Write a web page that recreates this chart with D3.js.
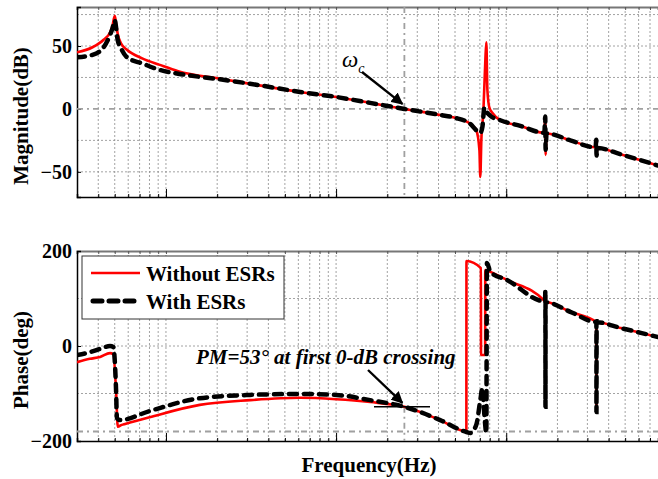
<!DOCTYPE html>
<html>
<head>
<meta charset="utf-8">
<script src="https://cdn.jsdelivr.net/npm/d3@7"></script>
<style>
  body { margin: 0; background: #fff; }
  svg { display: block; }
</style>
</head>
<body>
<svg id="bode"></svg>
<script>
// Bode plot of the loop gain, with and without capacitor ESRs

const magTicks = [-50, 0, 50];
const magGrid = [-50, -25, 25, 50, 75];
const phaseTicks = [-200, 0, 200];
const phaseGrid = [-100, 0, 100];
const freqDecades = [100, 1000, 10000];
const freqGrid = [40, 50, 60, 70, 80, 90, 100, 200, 300, 400, 500, 600, 700, 800, 900,
  1000, 2000, 3000, 4000, 5000, 6000, 7000, 8000, 9000, 10000, 20000, 30000, 40000,
  50000, 60000, 70000];
const crossFreq = 2520;

// [frequency (Hz), magnitude (dB)]
const magNoEsr = [[30, 45], [37, 49], [43, 55], [47, 61], [48.5, 66], [50, 74], [51, 67],
  [52, 60], [54.5, 52], [59, 47], [73, 40], [92, 35], [118, 30], [208, 24], [312, 20],
  [614, 13.5], [1000, 9.5], [1585, 4.8], [2520, 0], [4090, -4.8], [5000, -7], [6160, -12],
  [6670, -17], [6960, -33], [7040, -54], [7140, -25], [7340, -2], [7540, 39], [7640, 53],
  [7750, 15], [7960, 1], [8280, -3], [9230, -9], [12100, -13.5], [16760, -19], [16950, -6],
  [17050, -36.5], [17250, -19.5], [23800, -25], [33500, -30.5], [33850, -27], [33950, -36],
  [34300, -31], [46900, -36], [78000, -45]];
const magEsr = [[30, 41], [37, 43], [43, 49], [47, 59], [48.5, 64], [50, 70.5], [51, 64],
  [52, 55], [54.5, 48], [59, 41], [73, 36], [92, 31], [118, 28], [208, 23.5], [312, 20],
  [614, 13.5], [1000, 9.5], [1585, 4.8], [2520, 0], [4090, -4.8], [5000, -7], [6160, -12],
  [6670, -17], [7040, -19], [7250, -14], [7440, 1], [7640, -2], [8070, -5.5], [9230, -9],
  [12100, -13.5], [16760, -19], [16950, -6], [17050, -32.5], [17250, -19.5], [23800, -25],
  [33500, -30.5], [33850, -24.6], [33950, -37], [34300, -31], [46900, -36], [78000, -45]];

// [frequency (Hz), phase (deg)]
const phaseNoEsr = [[30, -34], [35.7, -27], [41, -23], [46.9, -15], [49, -17], [50.9, -93],
  [52.1, -170], [55, -166], [57.5, -164], [80, -150], [158, -124], [312, -114], [614, -109],
  [1000, -112], [1585, -118], [2520, -128], [4090, -156], [5830, -180], [5840, 179],
  [7100, 164], [7110, -19], [7520, -19], [7530, 160], [8070, 156], [10100, 139],
  [16900, 94], [16990, 92.5], [17000, -128], [17010, 92.5], [23800, 72], [33800, 50.5],
  [33900, -139], [34000, 50], [46900, 38], [78000, 19]];
const phaseEsr = [[30, -19], [35.7, -13], [41, -6], [46.9, 0], [49, -2], [50.9, -93],
  [51.5, -152], [53.6, -156], [80, -137], [158, -110], [312, -103], [614, -101],
  [1000, -103], [1585, -114], [2520, -128], [4090, -156], [5830, -181], [6160, -183],
  [6670, -166], [7040, -114], [7250, -88], [7440, -145], [7640, -183], [7700, 175],
  [8070, 156], [10100, 139], [16900, 94], [16990, 118], [17010, -128], [17030, 92],
  [23800, 72], [33800, 50.5], [33890, 52], [33910, -139], [34000, 50], [46900, 38],
  [78000, 19]];

const width = 658, height = 479;
const left = 77, right = 658;
const magBox = { top: 7, bottom: 197 };
const phBox = { top: 251, bottom: 441 };
const font = "'Liberation Serif', 'Times New Roman', serif";

const svg = d3.select("#bode").attr("width", width).attr("height", height)
  .style("font-family", font);

const x = d3.scaleLog([30, 78000], [left, right]);
const yMag = d3.scaleLinear([-70, 81], [magBox.bottom, magBox.top]);
const yPh = d3.scaleLinear([-200, 200], [phBox.bottom, phBox.top]);

const defs = svg.append("defs");

function panel(id, box, y, hGrid, ticks) {
  defs.append("clipPath").attr("id", id)
    .append("rect").attr("x", left).attr("y", box.top)
    .attr("width", right - left).attr("height", box.bottom - box.top);

  const g = svg.append("g");

  // grid
  g.append("g").selectAll("line").data(freqGrid).join("line")
    .attr("x1", d => x(d)).attr("x2", d => x(d))
    .attr("y1", box.top).attr("y2", box.bottom)
    .attr("stroke", "#8c8c8c").attr("stroke-width", 0.8)
    .attr("stroke-dasharray", "2,2");
  g.append("g").selectAll("line").data(hGrid).join("line")
    .attr("x1", left).attr("x2", right)
    .attr("y1", d => y(d)).attr("y2", d => y(d))
    .attr("stroke", "#8c8c8c").attr("stroke-width", 0.8)
    .attr("stroke-dasharray", "2,2");

  // axes
  g.append("g").attr("transform", `translate(0,${box.bottom})`)
    .call(d3.axisBottom(x).tickValues(freqGrid).tickSize(-3).tickFormat(""))
    .call(a => a.select(".domain").attr("stroke", "#000").attr("stroke-width", 1.5));
  g.append("g").attr("transform", `translate(0,${box.bottom})`)
    .call(d3.axisBottom(x).tickValues(freqDecades).tickSize(-8).tickFormat(""))
    .call(a => a.select(".domain").remove());
  g.append("g").attr("transform", `translate(0,${box.top})`)
    .call(d3.axisTop(x).tickValues(freqGrid).tickSize(-3).tickFormat(""))
    .call(a => a.select(".domain").attr("stroke", "#777").attr("stroke-width", 2))
    .call(a => a.selectAll(".tick line").attr("stroke", "#555"));

  g.append("g").attr("transform", `translate(${left},0)`)
    .call(d3.axisLeft(y).tickValues(ticks).tickSize(-4).tickPadding(5))
    .call(a => a.select(".domain").attr("stroke", "#000").attr("stroke-width", 1.5))
    .call(a => a.selectAll("text")
      .style("font-family", font).style("font-size", "20px").style("font-weight", "bold"));

  return g.append("g").attr("clip-path", `url(#${id})`);
}

const magG = panel("clip-mag", magBox, yMag, magGrid, magTicks);
const phG = panel("clip-ph", phBox, yPh, phaseGrid, phaseTicks);

// reference lines (0 dB, crossover, -180 deg)
const refStyle = sel => sel.attr("stroke", "#a0a0a0").attr("stroke-width", 1.8)
  .attr("stroke-dasharray", "6,4,2,4");
magG.append("line").attr("x1", left).attr("x2", right)
  .attr("y1", yMag(0)).attr("y2", yMag(0)).call(refStyle);
magG.append("line").attr("x1", x(crossFreq)).attr("x2", x(crossFreq))
  .attr("y1", magBox.top).attr("y2", magBox.bottom).call(refStyle);
phG.append("line").attr("x1", left).attr("x2", right)
  .attr("y1", yPh(-180)).attr("y2", yPh(-180)).call(refStyle);
phG.append("line").attr("x1", x(crossFreq)).attr("x2", x(crossFreq))
  .attr("y1", yPh(-128)).attr("y2", phBox.bottom).call(refStyle);

function draw(g, y, red, black) {
  const line = d3.line().x(d => x(d[0])).y(d => y(d[1])).curve(d3.curveMonotoneX);
  g.append("path").datum(red).attr("d", line)
    .attr("fill", "none").attr("stroke", "#ff0000").attr("stroke-width", 2.6);
  g.append("path").datum(black).attr("d", line)
    .attr("fill", "none").attr("stroke", "#000").attr("stroke-width", 4.5)
    .attr("stroke-dasharray", "8,7").attr("stroke-linecap", "round");
}
draw(magG, yMag, magNoEsr, magEsr);
draw(phG, yPh, phaseNoEsr, phaseEsr);

// arrows
defs.append("marker").attr("id", "head").attr("viewBox", "0 0 10 10")
  .attr("refX", 9).attr("refY", 5).attr("markerWidth", 5).attr("markerHeight", 5)
  .attr("orient", "auto")
  .append("path").attr("d", "M0,0L10,5L0,10z").attr("fill", "#000");

svg.append("line").attr("x1", 362).attr("y1", 72).attr("x2", x(crossFreq) - 2).attr("y2", yMag(0) - 5)
  .attr("stroke", "#000").attr("stroke-width", 2.4).attr("marker-end", "url(#head)");
svg.append("line").attr("x1", 368).attr("y1", 370).attr("x2", x(crossFreq) - 2).attr("y2", yPh(-128) - 4)
  .attr("stroke", "#000").attr("stroke-width", 2.4).attr("marker-end", "url(#head)");
svg.append("line").attr("x1", 374).attr("x2", 430).attr("y1", yPh(-128)).attr("y2", yPh(-128))
  .attr("stroke", "#000").attr("stroke-width", 1.6);

// annotations
const wcText = svg.append("text").attr("x", 342).attr("y", 67)
  .style("font-style", "italic").style("font-size", "23px");
wcText.append("tspan").text("ω");
wcText.append("tspan").attr("dy", 6).style("font-size", "14px").text("c");

svg.append("text").attr("x", 196).attr("y", 364)
  .style("font-style", "italic").style("font-weight", "bold").style("font-size", "21px")
  .text("PM=53\u00b0 at first 0-dB crossing");

// axis titles
svg.append("text").attr("transform", `translate(28,${(magBox.top + magBox.bottom) / 2 + 14}) rotate(-90)`)
  .attr("text-anchor", "middle").style("font-weight", "bold").style("font-size", "21px")
  .text("Magnitude(dB)");
svg.append("text").attr("transform", `translate(28,${(phBox.top + phBox.bottom) / 2 + 14}) rotate(-90)`)
  .attr("text-anchor", "middle").style("font-weight", "bold").style("font-size", "21px")
  .text("Phase(deg)");
svg.append("text").attr("x", 369).attr("y", 472)
  .attr("text-anchor", "middle").style("font-weight", "bold").style("font-size", "21px")
  .text("Frequency(Hz)");

// legend
const lg = svg.append("g");
lg.append("rect").attr("x", 82).attr("y", 256).attr("width", 202).attr("height", 63)
  .attr("fill", "#fff").attr("stroke", "#333").attr("stroke-width", 1);
lg.append("line").attr("x1", 91).attr("x2", 140).attr("y1", 273).attr("y2", 273)
  .attr("stroke", "#ff0000").attr("stroke-width", 2.6);
lg.append("line").attr("x1", 93).attr("x2", 140).attr("y1", 301).attr("y2", 301)
  .attr("stroke", "#000").attr("stroke-width", 5).attr("stroke-dasharray", "9,7")
  .attr("stroke-linecap", "round");
lg.append("text").attr("x", 146).attr("y", 281)
  .style("font-weight", "bold").style("font-size", "21px").text("Without ESRs");
lg.append("text").attr("x", 146).attr("y", 309)
  .style("font-weight", "bold").style("font-size", "21px").text("With ESRs");
</script>
</body>
</html>
